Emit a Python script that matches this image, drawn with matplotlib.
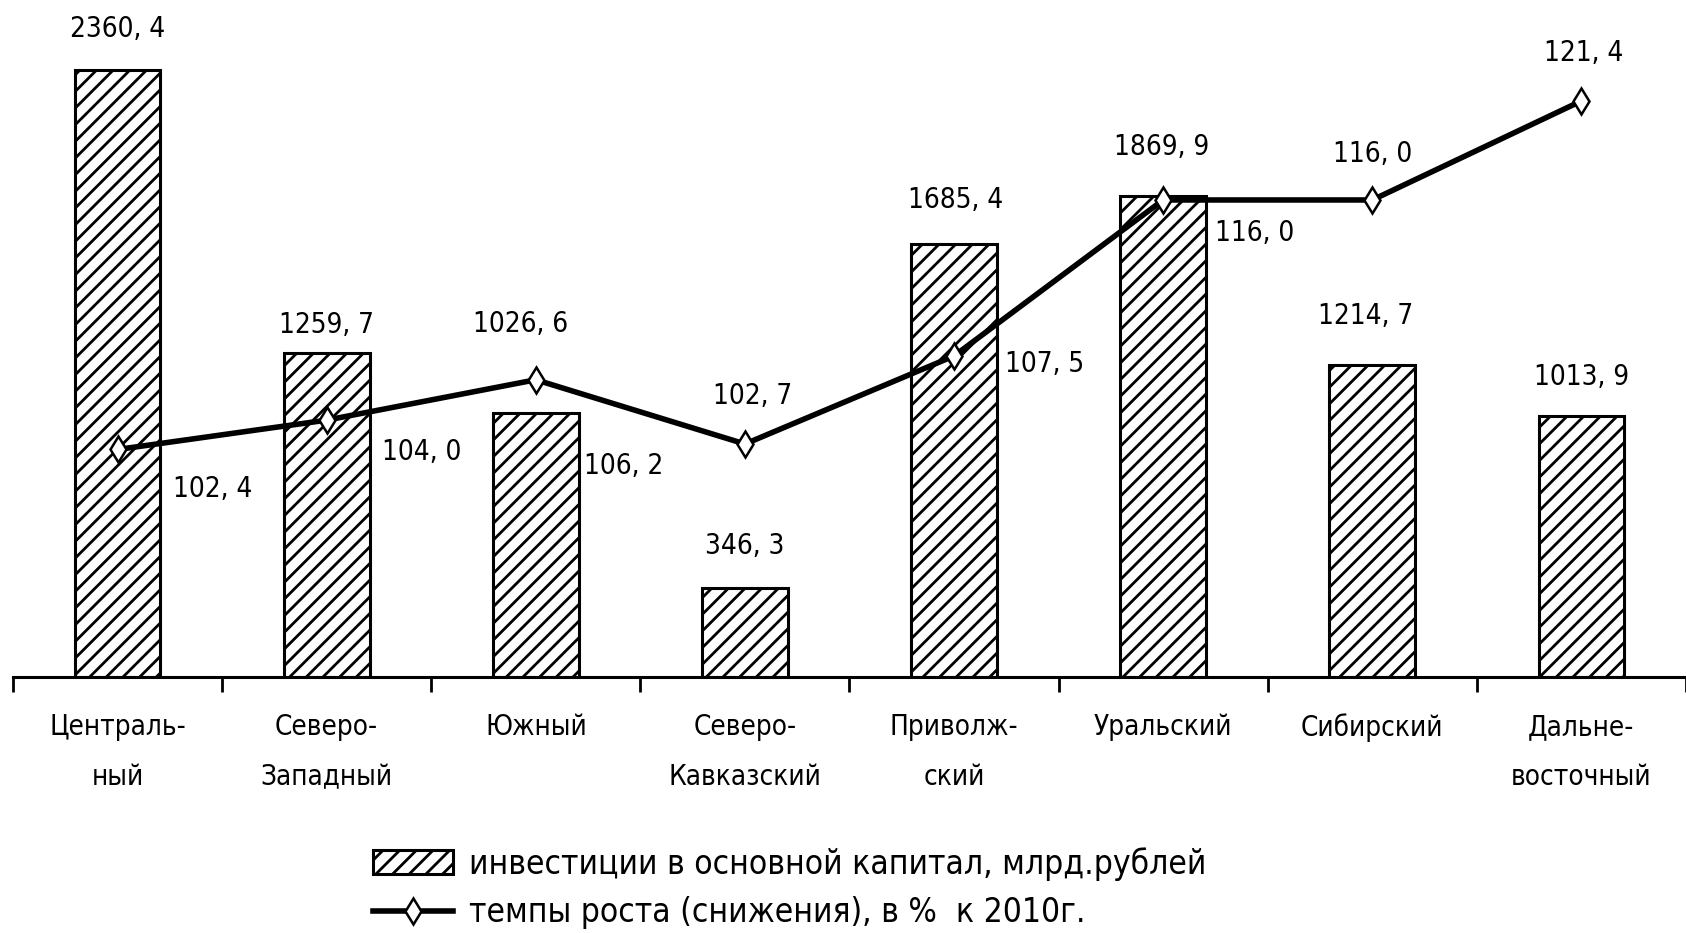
import matplotlib
matplotlib.use("Agg")
import matplotlib.pyplot as plt
import numpy as np
from matplotlib.patches import Patch
from matplotlib.lines import Line2D
from matplotlib import font_manager

# narrow look: use a condensed face if one is installed
cond = [f.name for f in font_manager.fontManager.ttflist if f.stretch in ("condensed", "semi-condensed", 600, 700)]
if "DejaVu Sans" in cond:
    plt.rcParams['font.family'] = ['DejaVu Sans']
    plt.rcParams['font.stretch'] = 'condensed'
else:
    plt.rcParams['font.family'] = ['Liberation Sans Narrow', 'Roboto', 'DejaVu Sans']
plt.rcParams['hatch.linewidth'] = 2.0

regions = ["Централь-\nный", "Северо-\nЗападный", "Южный", "Северо-\nКавказский",
           "Приволж-\nский", "Уральский", "Сибирский", "Дальне-\nвосточный"]
investments = [2360.4, 1259.7, 1026.6, 346.3, 1685.4, 1869.9, 1214.7, 1013.9]
growth = [102.4, 104.0, 106.2, 102.7, 107.5, 116.0, 116.0, 121.4]
inv_labels = ["2360, 4", "1259, 7", "1026, 6", "346, 3", "1685, 4", "1869, 9", "1214, 7", "1013, 9"]
growth_labels = ["102, 4", "104, 0", "106, 2", "102, 7", "107, 5", "116, 0", "116, 0", "121, 4"]

# label offsets in pixels (dx, dy)
inv_off = [(0, 41), (0, 28), (-15, 89), (0, 42), (2, 44), (-2, 49), (-7, 49), (0, 39)]
growth_off = [(95, -40), (95, -32), (88, -86), (8, 48), (91, -8), (91, -33), (0, 46), (2, 48)]

line_style = dict(color="black", lw=4, marker="d", markersize=13, markerfacecolor="white",
                  markeredgecolor="black", markeredgewidth=1.8)

fig = plt.figure(figsize=(16.86, 9.33), dpi=100)
ax = fig.add_axes([0.0077, 0.2744, 0.9923, 0.7256])
x = np.arange(len(regions))

ax.bar(x, investments, width=0.41, color="white", edgecolor="black", hatch="//", linewidth=2.2)
ax.set_xlim(-0.5, len(regions) - 0.5)
ax.set_ylim(0, 2633)
for s in ["top", "right", "left"]:
    ax.spines[s].set_visible(False)
ax.spines["bottom"].set_linewidth(2.2)
ax.set_yticks([])
ax.set_xticks(x)
ax.set_xticklabels(regions, fontsize=20, linespacing=2.0, va="top")
ax.tick_params(axis="x", which="major", length=0, pad=26)
ax.set_xticks(np.arange(-0.5, len(regions), 1.0), minor=True)
ax.tick_params(axis="x", which="minor", length=11, width=2, direction="out")

for i, v in enumerate(investments):
    ax.annotate(inv_labels[i], (x[i], v), xytext=inv_off[i], textcoords="offset pixels",
                ha="center", va="center", fontsize=20)

ax2 = ax.twinx()
ax2.set_ylim(90, 126.9)
ax2.axis("off")
ax2.plot(x, growth, **line_style)
for i, v in enumerate(growth):
    ax2.annotate(growth_labels[i], (x[i], v), xytext=growth_off[i], textcoords="offset pixels",
                 ha="center", va="center", fontsize=20)

handles = [Patch(facecolor="white", edgecolor="black", hatch="//", linewidth=2.2),
           Line2D([0], [0], **line_style)]
labels = ["инвестиции в основной капитал, млрд.рублей", "темпы роста (снижения), в %  к 2010г."]
fig.legend(handles, labels, loc="lower left", bbox_to_anchor=(0.221, 0.004), frameon=False,
           fontsize=24, handlelength=2.4, handletextpad=0.5, labelspacing=0.47,
           borderpad=0, borderaxespad=0)

fig.savefig("out.png", dpi=100)
